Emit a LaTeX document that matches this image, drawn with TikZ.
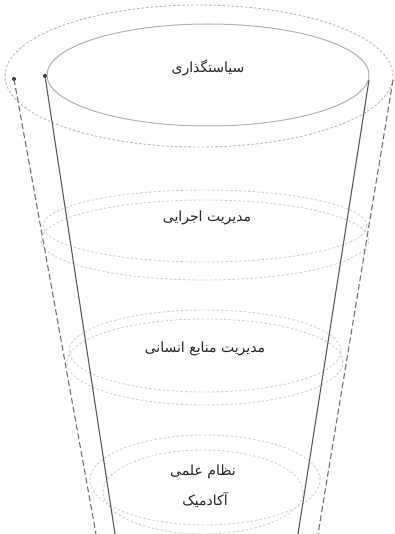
\documentclass[tikz,border=0pt]{standalone}
\usepackage{fontspec}
\newfontfamily\arabicfont[Script=Arabic]{DejaVu Sans}
\TeXXeTstate=1
\begin{document}
\begin{tikzpicture}[x=1pt,y=-1pt,
  lbl/.style={font=\arabicfont\fontsize{14}{18}\selectfont, text=black!85, align=center, inner sep=0pt},
  sidesolid/.style={draw=black!65, line width=1.1pt},
  sidedash/.style={draw=black!55, line width=1.1pt, dash pattern=on 6pt off 3pt},
  rimsolid/.style={draw=black!30, line width=1pt},
  rimdash/.style={draw=black!28, line width=0.9pt, dash pattern=on 2.5pt off 2pt},
  faintdash/.style={draw=black!18, line width=0.9pt, dash pattern=on 2.5pt off 2pt},
  dot/.style={circle, fill=black!80, inner sep=0pt, minimum size=4pt}]
\useasboundingbox (0,0) rectangle (394,534);
\fill[white] (0,0) rectangle (394,534);
% top rim
\draw[rimdash] (199,76) ellipse [x radius=194pt, y radius=71pt];
\draw[rimsolid] (208,75) ellipse [x radius=161pt, y radius=51pt];
% level 2
\draw[faintdash] (205,226) ellipse [x radius=162pt, y radius=36pt];
\draw[faintdash] (205,240) ellipse [x radius=164pt, y radius=40pt];
% level 3
\draw[faintdash] (205,351) ellipse [x radius=136pt, y radius=41pt];
\draw[faintdash] (205,362) ellipse [x radius=138pt, y radius=43pt];
% level 4
\draw[faintdash] (205,480) ellipse [x radius=115pt, y radius=45pt];
\draw[faintdash] (203,492) ellipse [x radius=100pt, y radius=42pt];
% side lines
\node[dot] (ls) at (45,76) {};
\node[dot] (ld) at (14,79) {};
\coordinate (lsb) at (115,534);
\coordinate (ldb) at (96,534);
\coordinate (rs) at (369,80);
\coordinate (rsb) at (298,534);
\coordinate (rd) at (393,80);
\coordinate (rdb) at (318,534);
\draw[sidesolid] (ls.center) -- (lsb);
\draw[sidedash] (ld.center) -- (ldb);
\draw[sidesolid] (rs) -- (rsb);
\draw[sidedash] (rd) -- (rdb);
% labels
\node[lbl] (t1) at (208,68) {\beginR سیاستگذاری\endR};
\node[lbl] (t2) at (207,218) {\beginR مدیریت اجرایی\endR};
\node[lbl] (t3) at (205,349) {\beginR مدیریت منابع انسانی\endR};
\node[lbl] (t4a) at (203,472) {\beginR نظام علمی\endR};
\node[lbl] (t4b) at (205,500) {\beginR آکادمیک\endR};
\end{tikzpicture}
\end{document}
